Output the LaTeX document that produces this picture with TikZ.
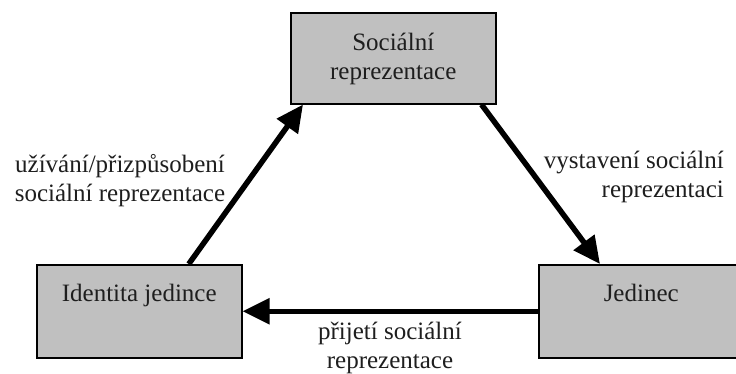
\documentclass[tikz,border=0pt]{standalone}
\usepackage{fontspec}
\setmainfont{Liberation Serif}
\usetikzlibrary{arrows.meta}
\definecolor{boxgray}{HTML}{C0C0C0}
\definecolor{txt}{HTML}{1E1E1E}
\begin{document}
\begin{tikzpicture}[x=1pt,y=-1pt,
  every node/.style={font=\fontsize{25}{28.5}\selectfont, text=txt},
  box/.style={draw=black, line width=1.5pt, fill=boxgray, inner sep=0pt, anchor=north west},
  arr/.style={line width=5.5pt, -{Triangle[length=27pt,width=25pt]}},
  lab/.style={inner sep=0pt}]
\useasboundingbox (0,0) rectangle (736,373);
\node[box] (soc) at (290,12) {\parbox[t][91pt][t]{205pt}{\centering\rule{0pt}{38pt}Sociální\\reprezentace}};
\node[box] (ident) at (36,264) {\parbox[t][93pt][t]{205pt}{\centering\rule{0pt}{37pt}Identita jedince}};
\node[box] (jed) at (538,264) {\parbox[t][93pt][t]{205pt}{\centering\rule{0pt}{37pt}Jedinec}};
\draw[arr] ([xshift=49.5pt]ident.north) -- ([xshift=13pt]soc.south west);
\draw[arr] ([xshift=-15pt]soc.south east) -- ([xshift=62pt]jed.north west);
\draw[arr] (jed.west) -- (ident.east);
\node[lab, align=center, anchor=base] (l1) at (120,201) {užívání/přizpůsobení\\sociální reprezentace};
\node[lab, align=right, anchor=base east] (l2) at (724,197) {vystavení sociální\\reprezentaci};
\node[lab, align=center, anchor=base] (l3) at (390,368) {přijetí sociální\\reprezentace};
\end{tikzpicture}
\end{document}
